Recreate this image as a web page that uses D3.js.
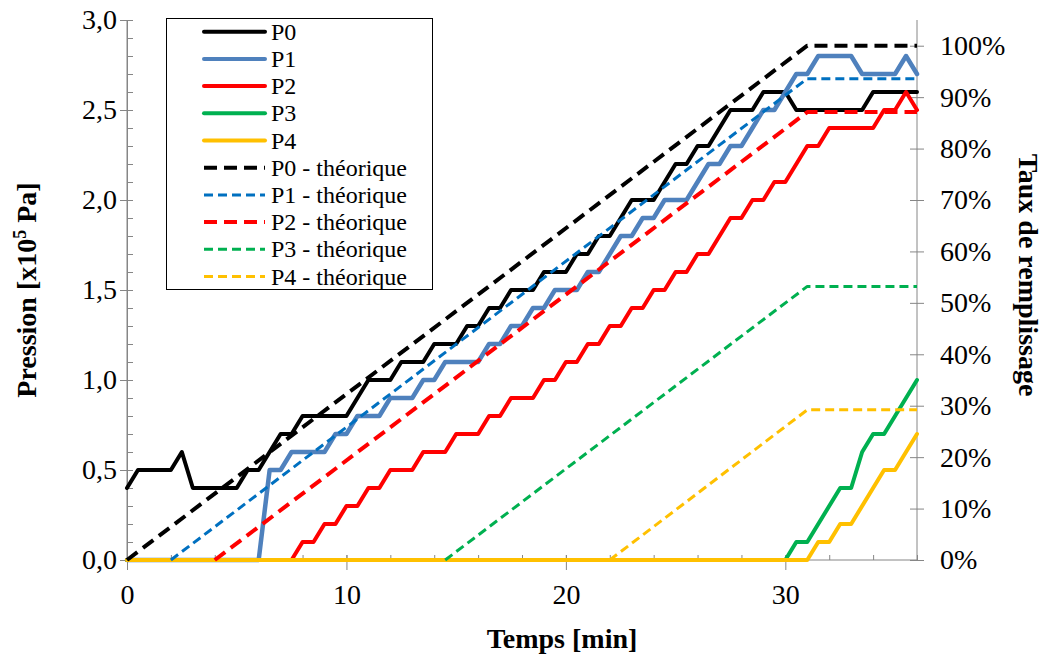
<!DOCTYPE html>
<html>
<head>
<meta charset="utf-8">
<script src="https://cdn.jsdelivr.net/npm/d3@7"></script>
<style>
  html, body { margin: 0; padding: 0; background: #fff; }
  svg { display: block; }
  text { font-family: "Liberation Serif", "Times New Roman", serif; fill: #000; }
</style>
</head>
<body>
<svg id="chart" width="1043" height="657"></svg>
<script>
// ---- Data ----
// Measured pressures [x10^5 Pa] — vertices of each recorded curve (time in min)
const p0Time = [0,0.5,2,2.5,3,5,5.5,6,7,7.5,8,10,11,12,12.5,13.5,14,15,15.5,16,16.5,17,17.5,18.5,19,20,20.5,21,21.5,22,23,24,25,25.5,26,26.5,27.5,28.5,29,30,30.5,33.5,34,36];
const p0Value = [0.4,0.5,0.5,0.6,0.4,0.4,0.5,0.5,0.7,0.7,0.8,0.8,1.0,1.0,1.1,1.1,1.2,1.2,1.3,1.3,1.4,1.4,1.5,1.5,1.6,1.6,1.7,1.7,1.8,1.8,2.0,2.0,2.2,2.2,2.3,2.3,2.5,2.5,2.6,2.6,2.5,2.5,2.6,2.6];

const p1Time = [0,6,6.5,7,7.5,9,9.5,10,10.5,11.5,12,13,13.5,14,14.5,16,16.5,17,17.5,18,18.5,19,19.5,20.5,21,21.5,22.5,23,23.5,24,24.5,25.5,26.5,27,27.5,28,28.5,29,29.5,30.5,31,31.5,33,33.5,35,35.5,36];
const p1Value = [0,0,0.5,0.5,0.6,0.6,0.7,0.7,0.8,0.8,0.9,0.9,1.0,1.0,1.1,1.1,1.2,1.2,1.3,1.3,1.4,1.4,1.5,1.5,1.6,1.6,1.8,1.8,1.9,1.9,2.0,2.0,2.2,2.2,2.3,2.3,2.4,2.5,2.5,2.7,2.7,2.8,2.8,2.7,2.7,2.8,2.7];

const p2Time = [0,7.5,8,8.5,9,9.5,10,10.5,11,11.5,12,13,13.5,14.5,15,16,16.5,17,17.5,18.5,19,19.5,20,20.5,21,21.5,22,22.5,23,23.5,24,24.5,25,25.5,26,26.5,27.5,28,28.5,29,29.5,30,31,31.5,32,34,34.5,35,35.5,36];
const p2Value = [0,0,0.1,0.1,0.2,0.2,0.3,0.3,0.4,0.4,0.5,0.5,0.6,0.6,0.7,0.7,0.8,0.8,0.9,0.9,1.0,1.0,1.1,1.1,1.2,1.2,1.3,1.3,1.4,1.4,1.5,1.5,1.6,1.6,1.7,1.7,1.9,1.9,2.0,2.0,2.1,2.1,2.3,2.3,2.4,2.4,2.5,2.5,2.6,2.5];

const p3Time = [0,30,30.5,31,32.5,33,33.5,34,34.5,36];
const p3Value = [0,0,0.1,0.1,0.4,0.4,0.6,0.7,0.7,1.0];

const p4Time = [0,31,31.5,32,32.5,33,34.5,35,36];
const p4Value = [0,0,0.1,0.1,0.2,0.2,0.5,0.5,0.7];

// Theoretical filling rate [%] (secondary axis): start time, end of ramp, end, plateau
const thStart   = [0, 2, 4, 14.5, 22];
const thRampEnd = [31, 31, 31, 31, 31];
const thEnd     = [36, 36, 36, 36, 36];
const thPlateau = [100, 93.6, 87.1, 53.2, 29.2];

const seriesNames = ["P0","P1","P2","P3","P4"];
const thNames = ["P0 - théorique","P1 - théorique","P2 - théorique","P3 - théorique","P4 - théorique"];

// Axis ticks
const xMajorTicks = [0,10,20,30];
const xMinorTicks = d3.range(0, 36.01, 2);
const yLeftMajor = [0,0.5,1.0,1.5,2.0,2.5,3.0];
const yLeftMinor = d3.range(0, 3.001, 0.1);
const yRightMajor = [0,10,20,30,40,50,60,70,80,90,100];

// ---- Styles ----
const measColors = ["#000000","#4F81BD","#FF0000","#00B050","#FFC000"];
const thColors   = ["#000000","#0070C0","#FF0000","#00B050","#FFC000"];
const thWidths   = [4, 3, 4, 3, 3];
const thDash     = ["13,7","9,5","13,7","9,5","9,5"];

// ---- Layout ----
const plot = {left:127, right:917, top:20, bottom:560};
const svg = d3.select("#chart");

const x = d3.scaleLinear().domain([0,36]).range([plot.left, plot.right]);
const yL = d3.scaleLinear().domain([0,3]).range([plot.bottom, plot.top]);
const yR = d3.scaleLinear().domain([0,105]).range([plot.bottom, plot.top]);

const axisColor = "#868686";
const tickFont = "28px";
const fmtComma = v => d3.format(".1f")(v).replace(".", ",");

// Left axis: minor ticks (inside) then major ticks (cross) with labels
const gL = svg.append("g").attr("transform", `translate(${plot.left},0)`);
gL.call(d3.axisRight(yL).tickValues(yLeftMinor).tickSize(6).tickFormat(""));
gL.call(g => g.selectAll("path").remove());
const gL2 = svg.append("g").attr("transform", `translate(${plot.left},0)`);
gL2.call(d3.axisLeft(yL).tickValues(yLeftMajor).tickSize(7).tickPadding(4).tickFormat(fmtComma));
gL2.selectAll(".tick line").attr("x2", 6).attr("x1", -7);
gL2.selectAll(".tick text").attr("x", -10);
[gL, gL2].forEach(g => {
  g.selectAll("line").attr("stroke", axisColor);
  g.selectAll("path").attr("stroke", axisColor);
  g.selectAll("text").style("font-size", tickFont).style("font-family", "Liberation Serif").attr("fill", "#000");
});

// Right axis
const gR = svg.append("g").attr("transform", `translate(${plot.right},0)`);
gR.call(d3.axisRight(yR).tickValues(yRightMajor).tickSize(7).tickPadding(16).tickFormat(d => d + "%"));
gR.selectAll(".tick line").attr("x1", -7).attr("x2", 7);
gR.selectAll("line").attr("stroke", axisColor);
gR.selectAll("path").attr("stroke", axisColor).attr("d", `M0,${plot.top}V${plot.bottom}`);
gR.selectAll("text").style("font-size", tickFont).style("font-family", "Liberation Serif").attr("fill", "#000");

// Bottom axis
const gB = svg.append("g").attr("transform", `translate(0,${plot.bottom})`);
gB.call(d3.axisBottom(x).tickValues(xMinorTicks).tickSize(0).tickFormat(""));
gB.selectAll(".tick line").attr("y1", -5).attr("y2", 0);
gB.selectAll("path").attr("d", `M${plot.left},0H${plot.right}`);
const gB2 = svg.append("g").attr("transform", `translate(0,${plot.bottom})`);
gB2.call(d3.axisBottom(x).tickValues(xMajorTicks).tickSize(10).tickPadding(14).tickFormat(d3.format("d")));
gB2.selectAll(".tick line").attr("y1", -5).attr("y2", 10);
gB2.select("path").remove();
[gB, gB2].forEach(g => {
  g.selectAll("line").attr("stroke", axisColor);
  g.selectAll("path").attr("stroke", axisColor);
  g.selectAll("text").style("font-size", tickFont).style("font-family", "Liberation Serif").attr("fill", "#000");
});
gL.append("path").attr("d", `M0,${plot.top}V${plot.bottom}`).attr("stroke", axisColor).attr("fill","none");

// ---- Lines ----
const lineL = d3.line().x(d => x(d[0])).y(d => yL(d[1]));
const lineR = d3.line().x(d => x(d[0])).y(d => yR(d[1]));

const measTimes = [p0Time, p1Time, p2Time, p3Time, p4Time];
const measValues = [p0Value, p1Value, p2Value, p3Value, p4Value];
const gLines = svg.append("g");
measTimes.forEach((t, i) => {
  const pts = t.map((tt, k) => [tt, measValues[i][k]]);
  gLines.append("path").datum(pts)
    .attr("d", lineL).attr("fill", "none")
    .attr("stroke", measColors[i]).attr("stroke-width", i === 1 ? 4.5 : 4)
    .attr("stroke-linejoin", "round").attr("stroke-linecap", "round");
});
thStart.forEach((s, i) => {
  const pts = [[s, 0], [thRampEnd[i], thPlateau[i]], [thEnd[i], thPlateau[i]]];
  gLines.append("path").datum(pts)
    .attr("d", lineR).attr("fill", "none")
    .attr("stroke", thColors[i]).attr("stroke-width", thWidths[i])
    .attr("stroke-dasharray", thDash[i]).attr("stroke-linejoin", "round");
});

// ---- Legend ----
const leg = svg.append("g");
leg.append("rect").attr("x", 166.5).attr("y", 18.5).attr("width", 266).attr("height", 271)
  .attr("fill", "#fff").attr("stroke", "#000").attr("stroke-width", 1);
const legItems = seriesNames.map((n, i) => ({name: n, color: measColors[i], w: 4, dash: null}))
  .concat(thNames.map((n, i) => ({name: n, color: thColors[i], w: thWidths[i], dash: thDash[i]})));
legItems.forEach((it, i) => {
  const yy = 31.7 + i * 27.2;
  leg.append("line").attr("x1", 204).attr("x2", 265).attr("y1", yy).attr("y2", yy)
    .attr("stroke", it.color).attr("stroke-width", it.w)
    .attr("stroke-dasharray", it.dash).attr("stroke-linecap", it.dash ? "butt" : "round");
  leg.append("text").attr("x", 271).attr("y", yy + 8).style("font-size", "24px").text(it.name);
});

// ---- Axis titles ----
svg.append("text").attr("x", 562).attr("y", 648).attr("text-anchor", "middle")
  .style("font-size", "28px").style("font-weight", "bold").text("Temps [min]");

const tl = svg.append("text").attr("transform", "translate(36,290) rotate(-90)")
  .attr("text-anchor", "middle").style("font-size", "28px").style("font-weight", "bold");
tl.append("tspan").text("Pression [x10");
tl.append("tspan").attr("baseline-shift", "super").style("font-size", "18px").text("5");
tl.append("tspan").text(" Pa]");

svg.append("text").attr("transform", "translate(1019,275) rotate(90)")
  .attr("text-anchor", "middle").style("font-size", "28px").style("font-weight", "bold")
  .text("Taux de remplissage");
</script>
</body>
</html>
